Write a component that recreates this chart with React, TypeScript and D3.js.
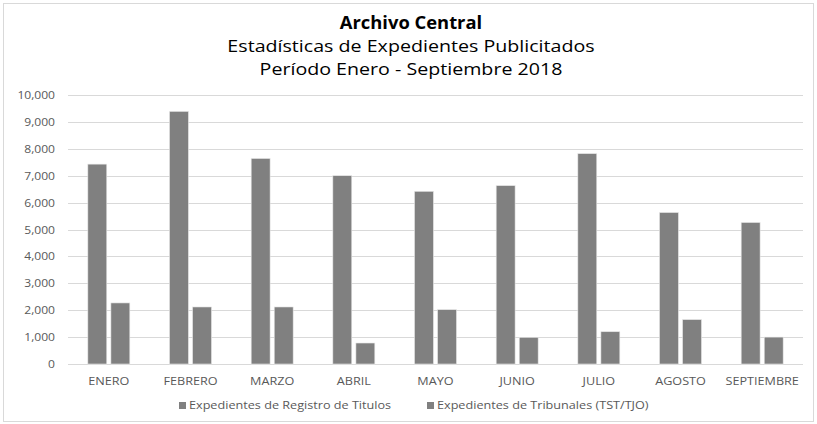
import React, { useEffect } from "react";
import * as d3 from "d3";

const months = ["ENERO", "FEBRERO", "MARZO", "ABRIL", "MAYO", "JUNIO", "JULIO", "AGOSTO", "SEPTIEMBRE"];
const registroTitulos = [7430, 9390, 7640, 7000, 6420, 6630, 7820, 5630, 5260];
const tribunales = [2270, 2120, 2120, 780, 2020, 990, 1200, 1650, 1000];
const seriesNames = ["Expedientes de Registro de Titulos", "Expedientes de Tribunales (TST/TJO)"];
const yTicks = [0, 1000, 2000, 3000, 4000, 5000, 6000, 7000, 8000, 9000, 10000];

const width = 817;
const height = 424;
const margin = { top: 95, right: 14, bottom: 60, left: 68 };
const font = "'Open Sans', sans-serif";
const barColor = "#808080";
const labelColor = "#595959";

// text stretched horizontally, like the original export
const Label: React.FC<{
  x: number; y: number; sx?: number; size: number; anchor?: "start" | "middle" | "end";
  bold?: boolean; fill?: string; children: React.ReactNode;
}> = ({ x, y, sx = 1.15, size, anchor = "start", bold = false, fill = labelColor, children }) => (
  <text transform={`translate(${x},${y}) scale(${sx},1)`} textAnchor={anchor} fontFamily={font}
    fontSize={size} fontWeight={bold ? "bold" : "normal"} fill={fill}>
    {children}
  </text>
);

const App: React.FC = () => {
  useEffect(() => {
    document.body.style.margin = "0";
  }, []);

  const x = d3.scaleBand()
    .domain(months)
    .range([margin.left, width - margin.right])
    .paddingInner(0.486)
    .paddingOuter(0.243);

  const x1 = d3.scaleBand<number>()
    .domain([0, 1])
    .range([0, x.bandwidth()])
    .paddingInner(0.18);

  const y = d3.scaleLinear()
    .domain([0, 10000])
    .range([height - margin.bottom, margin.top]);

  const fmt = d3.format(",");
  const series = [registroTitulos, tribunales];

  return (
    <svg width={width} height={height} style={{ display: "block", background: "#fff" }}>
      <rect x={3.5} y={3.5} width={width - 7} height={height - 6} fill="#fff" stroke="#d9d9d9" />

      {/* titles */}
      <Label x={411} y={29} size={17} sx={1.08} anchor="middle" bold fill="#000">Archivo Central</Label>
      <Label x={411} y={52} size={17} sx={1.155} anchor="middle" fill="#000">
        Estadísticas de Expedientes Publicitados
      </Label>
      <Label x={411} y={75} size={17} sx={1.155} anchor="middle" fill="#000">
        Período Enero - Septiembre 2018
      </Label>

      {/* gridlines + y labels */}
      {yTicks.map(t => (
        <g key={t}>
          <line x1={margin.left} x2={width - margin.right} y1={Math.round(y(t)) + 0.5} y2={Math.round(y(t)) + 0.5}
            stroke="#d9d9d9" strokeWidth={1} />
          <Label x={55} y={y(t) + 4} size={10.5} anchor="end">{fmt(t)}</Label>
        </g>
      ))}

      {/* bars */}
      {months.map((m, i) => (
        <g key={m} transform={`translate(${x(m)},0)`}>
          {series.map((s, j) => (
            <rect key={j} x={x1(j)} y={y(s[i])} width={x1.bandwidth()} height={y(0) - y(s[i])}
              fill={barColor} stroke="#e6e6e6" strokeWidth={0.6} />
          ))}
        </g>
      ))}

      {/* category labels */}
      {months.map(m => (
        <Label key={m} x={(x(m) ?? 0) + x.bandwidth() / 2} y={384.5} size={11} anchor="middle">{m}</Label>
      ))}

      {/* legend */}
      {seriesNames.map((name, j) => {
        const lx = j === 0 ? 179 : 427;
        return (
          <g key={name}>
            <rect x={lx} y={402} width={7} height={7} fill={barColor} />
            <Label x={lx + 10} y={409} size={11}>{name}</Label>
          </g>
        );
      })}
    </svg>
  );
};

export default App;
